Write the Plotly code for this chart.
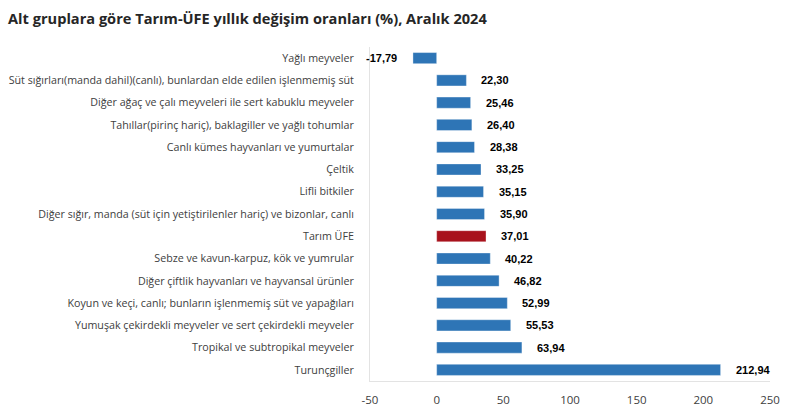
import plotly.graph_objects as go

categories = [
    "Yağlı meyveler",
    "Süt sığırları(manda dahil)(canlı), bunlardan elde edilen işlenmemiş süt",
    "Diğer ağaç ve çalı meyveleri ile sert kabuklu meyveler",
    "Tahıllar(pirinç hariç), baklagiller ve yağlı tohumlar",
    "Canlı kümes hayvanları ve yumurtalar",
    "Çeltik",
    "Lifli bitkiler",
    "Diğer sığır, manda (süt için yetiştirilenler hariç) ve bizonlar, canlı",
    "Tarım ÜFE",
    "Sebze ve kavun-karpuz, kök ve yumrular",
    "Diğer çiftlik hayvanları ve hayvansal ürünler",
    "Koyun ve keçi, canlı; bunların işlenmemiş süt ve yapağıları",
    "Yumuşak çekirdekli meyveler ve sert çekirdekli meyveler",
    "Tropikal ve subtropikal meyveler",
    "Turunçgiller",
]
values = [-17.79, 22.30, 25.46, 26.40, 28.38, 33.25, 35.15, 35.90, 37.01,
          40.22, 46.82, 52.99, 55.53, 63.94, 212.94]
tick_vals = [-50, 0, 50, 100, 150, 200, 250]

BLUE = "#2E75B6"
RED = "#A8121C"
colors = [RED if c == "Tarım ÜFE" else BLUE for c in categories]

fig = go.Figure()
fig.add_trace(go.Bar(
    x=values, y=categories, orientation="h",
    marker=dict(color=colors, line=dict(color="rgba(255,255,255,0.35)", width=1)),
    width=0.5, hoverinfo="skip",
))

for c, v in zip(categories, values):
    label = f"{v:.2f}".replace(".", ",")
    fig.add_annotation(
        x=v, y=c, text=f"<b>{label}</b>", showarrow=False,
        xanchor="left" if v >= 0 else "right",
        xshift=13 if v >= 0 else -14,
        font=dict(family="Liberation Sans, Arial", size=11, color="#000000"),
    )

fig.update_layout(
    width=804, height=420,
    margin=dict(l=370, r=34, t=47, b=39, autoexpand=False),
    paper_bgcolor="white", plot_bgcolor="white",
    showlegend=False,
    title=dict(
        text="<b>Alt gruplara göre Tarım-ÜFE yıllık değişim oranları (%), Aralık 2024</b>",
        x=0.01, xanchor="left", y=0.955, yanchor="middle",
        font=dict(family="Open Sans, Noto Sans", size=14.6, color="#262626"),
    ),
    xaxis=dict(
        range=[-50, 250], tickvals=tick_vals,
        ticktext=[str(t) for t in tick_vals],
        showgrid=False, zeroline=False, automargin=False,
        showline=True, linecolor="#E3E3E3", linewidth=1,
        ticks="", ticklen=0, ticklabelstandoff=8,
        tickfont=dict(family="Open Sans, Noto Sans", size=11.5, color="#404040"),
    ),
    yaxis=dict(
        autorange="reversed", showgrid=False, zeroline=False, automargin=False,
        showline=True, linecolor="#E3E3E3", linewidth=1,
        ticks="", ticklabelstandoff=13,
        tickfont=dict(family="Open Sans, Noto Sans", size=10.7, color="#404040"),
    ),
    bargap=0.5,
)

fig.write_html("out.html")
